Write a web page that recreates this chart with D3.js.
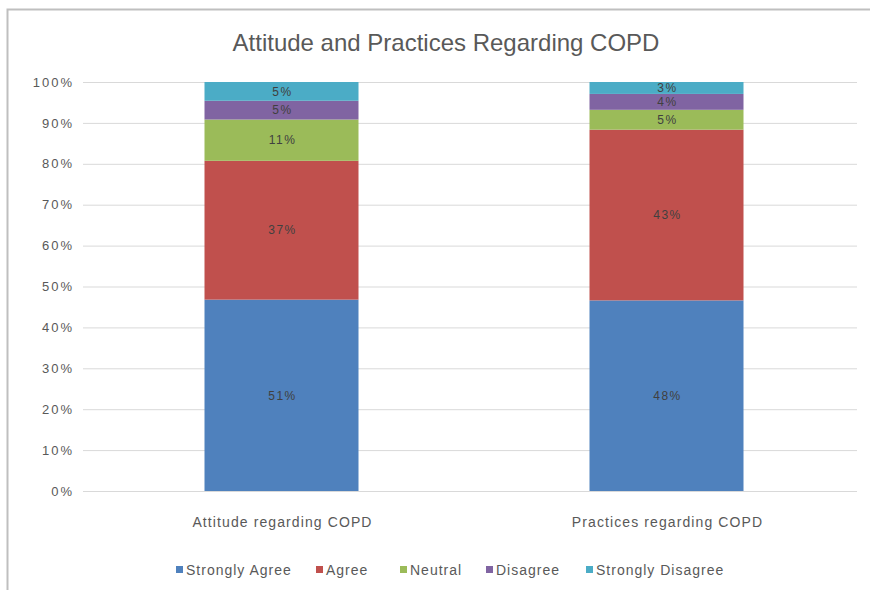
<!DOCTYPE html>
<html><head><meta charset="utf-8">
<script src="https://cdn.jsdelivr.net/npm/d3@7"></script>
<style>body{margin:0;background:#fff;}svg{display:block;font-family:"Liberation Sans","DejaVu Sans",sans-serif;}</style>
</head><body>
<svg id="c" width="870" height="590"></svg>
<script>
const categories = ["Attitude regarding COPD", "Practices regarding COPD"];
const seriesNames = ["Strongly Agree", "Agree", "Neutral", "Disagree", "Strongly Disagree"];
const seriesColors = ["#4F81BD", "#C0504D", "#9BBB59", "#8064A2", "#4BACC6"];
const stronglyAgree = [51, 48];
const agree = [37, 43];
const neutral = [11, 5];
const disagree = [5, 4];
const stronglyDisagree = [5, 3];
const yTicks = [0, 0.1, 0.2, 0.3, 0.4, 0.5, 0.6, 0.7, 0.8, 0.9, 1.0];
const title = "Attitude and Practices Regarding COPD";

(function () {
const values = [stronglyAgree, agree, neutral, disagree, stronglyDisagree];
const rows = categories.map((c, i) => {
  const r = {cat: c};
  seriesNames.forEach((s, j) => r[s] = values[j][i]);
  return r;
});

const svg = d3.select("#c");
svg.append("rect").attr("x", 7.5).attr("y", 9.5).attr("width", 880).attr("height", 600)
  .attr("fill", "#fff").attr("stroke", "#bfbfbf").attr("stroke-width", 2);

const pLeft = 83, pRight = 857, pTop = 82, pBottom = 491;
const x = d3.scaleBand().domain(categories).range([pLeft + 6, pRight + 2]).paddingInner(0.6).paddingOuter(0.3);
const y = d3.scaleLinear().domain([0, 1]).range([pBottom, pTop]);

const stacked = d3.stack().keys(seriesNames).offset(d3.stackOffsetExpand)(rows);

svg.append("g").selectAll("line").data(yTicks).join("line")
  .attr("x1", pLeft).attr("x2", pRight)
  .attr("y1", d => y(d) + 0.5).attr("y2", d => y(d) + 0.5)
  .attr("stroke", "#d9d9d9").attr("stroke-width", 1);

const ya = svg.append("g").attr("transform", "translate(74,0)")
  .call(d3.axisLeft(y).tickValues(yTicks).tickFormat(d3.format(".0%")).tickSize(0).tickPadding(0));
ya.select(".domain").remove();
ya.selectAll("text").attr("fill", "#595959").style("font-size", "13px").style("letter-spacing", "2px");

const g = svg.append("g");
stacked.forEach((layer, j) => {
  g.append("g").selectAll("rect").data(layer).join("rect")
    .attr("x", d => x(d.data.cat))
    .attr("width", x.bandwidth())
    .attr("y", d => y(d[1]))
    .attr("height", d => y(d[0]) - y(d[1]))
    .attr("fill", seriesColors[j]);
  g.append("g").selectAll("text").data(layer).join("text")
    .attr("x", d => x(d.data.cat) + x.bandwidth() / 2 + 1)
    .attr("y", d => (y(d[0]) + y(d[1])) / 2)
    .attr("dy", "0.35em")
    .attr("text-anchor", "middle")
    .attr("fill", "#404040")
    .style("font-size", "12px").style("letter-spacing", "1.5px")
    .text((d, i) => values[j][i] + "%");
});

const xa = svg.append("g").attr("transform", `translate(1,517)`)
  .call(d3.axisBottom(x).tickSize(0).tickPadding(0));
xa.select(".domain").remove();
xa.selectAll("text").attr("fill", "#595959").style("font-size", "14px").style("letter-spacing", "1.1px");

svg.append("text").attr("x", 446).attr("y", 51).attr("text-anchor", "middle")
  .attr("fill", "#595959").style("font-size", "24px").text(title);

const legendX = [176, 316, 400, 486, 586];
const lg = svg.append("g").selectAll("g").data(seriesNames).join("g")
  .attr("transform", (d, i) => `translate(${legendX[i]},570)`);
lg.append("rect").attr("x", 0).attr("y", -4).attr("width", 7).attr("height", 7)
  .attr("fill", (d, i) => seriesColors[i]);
lg.append("text").attr("x", 10).attr("y", 0).attr("dy", "0.35em")
  .attr("fill", "#595959").style("font-size", "14px").style("letter-spacing", "1px").text(d => d);
})();
</script>
</body></html>
